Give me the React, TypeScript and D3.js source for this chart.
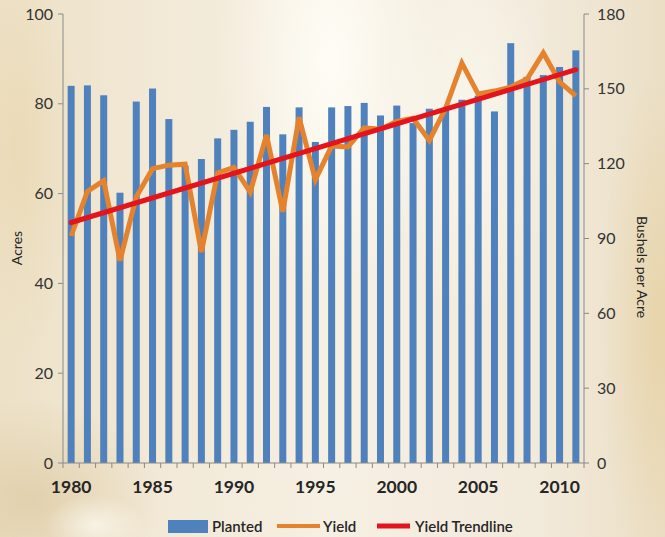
import React from "react";
import * as d3 from "d3";

// US corn: planted area (million acres) and yield (bushels per acre)
const years: number[] = d3.range(1980, 2012);
const planted: number[] = [
  84.0, 84.1, 81.9, 60.2, 80.5, 83.4, 76.6, 66.2, 67.7, 72.3,
  74.2, 76.0, 79.3, 73.2, 79.2, 71.5, 79.2, 79.5, 80.2, 77.4,
  79.6, 75.7, 78.9, 78.6, 80.9, 81.8, 78.3, 93.5, 86.0, 86.4,
  88.2, 91.9,
];
const yieldBu: number[] = [
  91.0, 108.9, 113.2, 81.1, 106.7, 118.0, 119.4, 119.8, 84.6, 116.3,
  118.5, 108.6, 131.5, 100.7, 138.6, 113.5, 127.1, 126.7, 134.4, 133.8,
  136.9, 138.2, 129.3, 142.2, 160.3, 147.9, 149.1, 150.7, 153.9, 164.4,
  152.8, 147.2,
];
const acreTicks = [0, 20, 40, 60, 80, 100];
const bushelTicks = [0, 30, 60, 90, 120, 150, 180];
const yearLabels = [1980, 1985, 1990, 1995, 2000, 2005, 2010];

const W = 665;
const H = 537;
const left = 63;
const right = 584;
const top = 14;
const bottom = 463;

const FONT = "Lato, 'Open Sans', sans-serif";
const BLUE = "#4f81bd";
const ORANGE = "#e4822e";
const RED = "#e3141c";
const AXIS = "#8a8a8a";

// least-squares fit of yield against year
function linearFit(xs: number[], ys: number[]) {
  const n = xs.length;
  const mx = d3.mean(xs)!;
  const my = d3.mean(ys)!;
  let sxy = 0;
  let sxx = 0;
  for (let i = 0; i < n; i++) {
    sxy += (xs[i] - mx) * (ys[i] - my);
    sxx += (xs[i] - mx) * (xs[i] - mx);
  }
  const slope = sxy / sxx;
  return (x: number) => my + slope * (x - mx);
}

export default function App() {
  const x = d3
    .scaleBand<number>()
    .domain(years)
    .range([left, right])
    .paddingInner(0.57)
    .paddingOuter(0.285);
  const step = x.step();
  const cx = (yr: number) => x(yr)! + x.bandwidth() / 2;
  const yL = d3.scaleLinear().domain([0, 100]).range([bottom, top]);
  const yR = d3.scaleLinear().domain([0, 180]).range([bottom, top]);

  const yieldLine = d3
    .line<number>()
    .x((_, i) => cx(years[i]))
    .y((v) => yR(v))(yieldBu)!;

  const fit = linearFit(years, yieldBu);
  const trendPts: [number, number][] = [years[0], years[years.length - 1]].map(
    (yr) => [cx(yr), yR(fit(yr))]
  );
  const trendLine = d3.line()(trendPts)!;

  const boundaries = d3.range(years.length + 1).map((i) => left + i * step);

  return (
    <svg
      width={W}
      height={H}
      style={{ position: "absolute", left: 0, top: 0, display: "block" }}
      fontFamily={FONT}
    >
      <defs>
        <linearGradient id="bgBase" x1="0" y1="0" x2="1" y2="0">
          <stop offset="0" stopColor="#ede1c7" />
          <stop offset="0.25" stopColor="#f2e9d7" />
          <stop offset="0.5" stopColor="#f6f0e3" />
          <stop offset="0.8" stopColor="#f2eadb" />
          <stop offset="1" stopColor="#ebdfc6" />
        </linearGradient>
        <radialGradient id="glow" cx="0.5" cy="0.5" r="0.5">
          <stop offset="0" stopColor="#fffdf6" stopOpacity="0.95" />
          <stop offset="1" stopColor="#fffdf6" stopOpacity="0" />
        </radialGradient>
        <radialGradient id="tan" cx="0.5" cy="0.5" r="0.5">
          <stop offset="0" stopColor="#dcc9a2" stopOpacity="0.7" />
          <stop offset="1" stopColor="#dcc9a2" stopOpacity="0" />
        </radialGradient>
        <radialGradient id="gold" cx="0.5" cy="0.5" r="0.5">
          <stop offset="0" stopColor="#e6cf9e" stopOpacity="0.7" />
          <stop offset="1" stopColor="#e6cf9e" stopOpacity="0" />
        </radialGradient>
      </defs>

      {/* soft backdrop */}
      <rect x={0} y={0} width={W} height={H} fill="url(#bgBase)" />
      <ellipse cx={330} cy={60} rx={110} ry={230} fill="url(#glow)" />
      <ellipse cx={470} cy={120} rx={90} ry={200} fill="url(#glow)" opacity={0.6} />
      <ellipse cx={30} cy={500} rx={130} ry={100} fill="url(#tan)" />
      <ellipse cx={95} cy={525} rx={50} ry={30} fill="url(#glow)" opacity={0.7} />
      <ellipse cx={660} cy={330} rx={60} ry={260} fill="url(#gold)" />
      <ellipse cx={20} cy={150} rx={60} ry={200} fill="url(#gold)" opacity={0.6} />

      {/* planted bars */}
      {years.map((yr, i) => (
        <rect
          key={yr}
          x={x(yr)}
          y={yL(planted[i])}
          width={x.bandwidth()}
          height={bottom - yL(planted[i])}
          fill={BLUE}
        />
      ))}

      {/* yield and its trend */}
      <path d={yieldLine} fill="none" stroke={ORANGE} strokeWidth={5} strokeLinejoin="miter" />
      <path d={trendLine} fill="none" stroke={RED} strokeWidth={5} strokeLinecap="round" />

      {/* left axis */}
      <line x1={left} x2={left} y1={top} y2={bottom} stroke={AXIS} />
      {acreTicks.map((t) => (
        <g key={t}>
          <line x1={left - 5} x2={left} y1={yL(t)} y2={yL(t)} stroke={AXIS} />
          <text
            x={left - 10}
            y={yL(t)}
            dy="0.35em"
            textAnchor="end"
            fontSize={16}
            fill="#333"
          >
            {t}
          </text>
        </g>
      ))}

      {/* right axis */}
      <line x1={right} x2={right} y1={top} y2={bottom} stroke={AXIS} />
      {bushelTicks.map((t) => (
        <g key={t}>
          <line x1={right} x2={right + 5} y1={yR(t)} y2={yR(t)} stroke={AXIS} />
          <text
            x={right + 13}
            y={yR(t)}
            dy="0.35em"
            textAnchor="start"
            fontSize={16}
            fill="#333"
          >
            {t}
          </text>
        </g>
      ))}

      {/* category axis */}
      <line x1={left} x2={right} y1={bottom} y2={bottom} stroke={AXIS} />
      {boundaries.map((bx, i) => (
        <line key={i} x1={bx} x2={bx} y1={bottom} y2={bottom + 5} stroke={AXIS} />
      ))}
      {yearLabels.map((yr) => (
        <text
          key={yr}
          x={cx(yr)}
          y={bottom + 30}
          textAnchor="middle"
          fontSize={17.5}
          fontWeight="bold"
          fill="#262626"
        >
          {yr}
        </text>
      ))}

      {/* axis titles */}
      <text
        transform={`translate(22,248) rotate(-90)`}
        textAnchor="middle"
        fontSize={14}
        fill="#262626"
      >
        Acres
      </text>
      <text
        transform={`translate(637,267) rotate(90)`}
        textAnchor="middle"
        fontSize={14}
        fill="#262626"
      >
        Bushels per Acre
      </text>

      {/* legend */}
      <g fontSize={15} fontWeight={600} fill="#262626">
        <rect x={168} y={520} width={40} height={13} fill={BLUE} />
        <text x={212} y={532}>Planted</text>
        <line x1={277} x2={320} y1={526} y2={526} stroke={ORANGE} strokeWidth={4} />
        <text x={323} y={532}>Yield</text>
        <line x1={377} x2={410} y1={526} y2={526} stroke={RED} strokeWidth={5} />
        <text x={415} y={532}>Yield Trendline</text>
      </g>
    </svg>
  );
}
